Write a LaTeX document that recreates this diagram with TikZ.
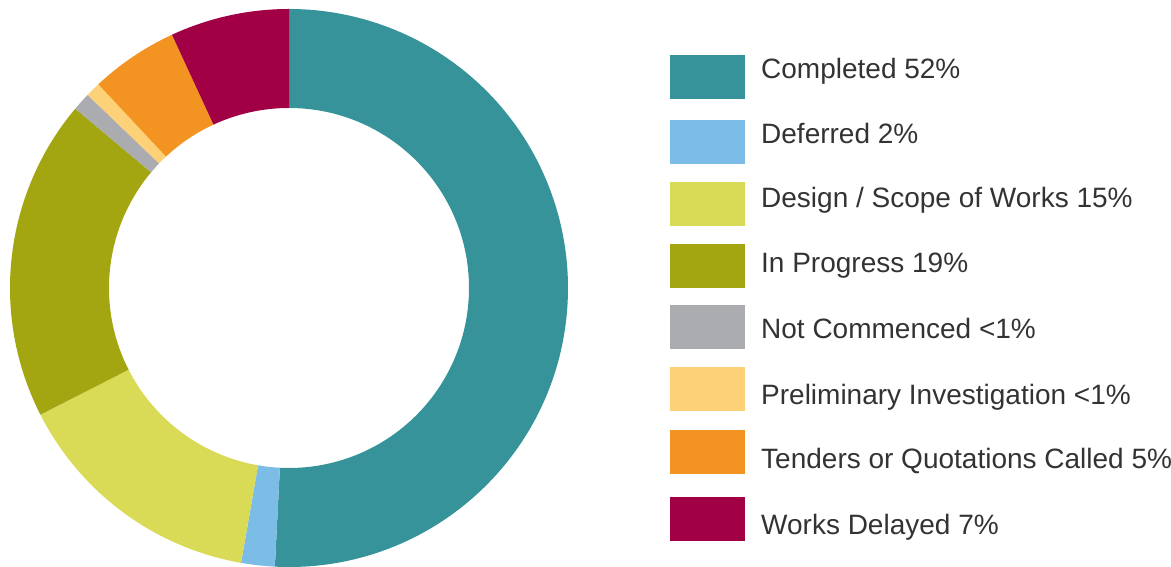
\documentclass[tikz,border=0pt]{standalone}
\usepackage{fontspec}
\setmainfont{Liberation Sans}
\definecolor{cTeal}{HTML}{36939A}
\definecolor{cBlue}{HTML}{7BBDE6}
\definecolor{cLime}{HTML}{D9DA56}
\definecolor{cOlive}{HTML}{A3A610}
\definecolor{cGray}{HTML}{ABACAF}
\definecolor{cPale}{HTML}{FDD178}
\definecolor{cOrange}{HTML}{F39321}
\definecolor{cCrimson}{HTML}{A10045}
\definecolor{cText}{HTML}{333333}
\newcommand{\donutseg}[3]{%
  \fill[#3] ($(c)+(#1:279pt)$) arc[start angle=#1, end angle=#2, radius=279pt]
    -- ($(c)+(#2:180pt)$) arc[start angle=#2, end angle=#1, radius=180pt] -- cycle;}
\usetikzlibrary{calc}
\begin{document}
\begin{tikzpicture}[x=1pt,y=1pt,
  swatch/.style={minimum width=75pt, minimum height=44pt, inner sep=0pt, anchor=north west},
  legtext/.style={anchor=base west, inner sep=0pt, text=cText, font=\fontsize{28pt}{32pt}\selectfont}]
\useasboundingbox (0,0) rectangle (1171,567);
\coordinate (c) at (289,279);
\donutseg{-92.9}{90}{cTeal}
\donutseg{-99.9}{-92.9}{cBlue}
\donutseg{-153}{-99.9}{cLime}
\donutseg{140}{207}{cOlive}
\donutseg{136.2}{140}{cGray}
\donutseg{133.1}{136.2}{cPale}
\donutseg{114.8}{133.1}{cOrange}
\donutseg{90}{114.8}{cCrimson}
% legend
\node[swatch, fill=cTeal]    (s1) at (670,512) {};
\node[swatch, fill=cBlue]    (s2) at (670,447) {};
\node[swatch, fill=cLime]    (s3) at (670,385) {};
\node[swatch, fill=cOlive]   (s4) at (670,323) {};
\node[swatch, fill=cGray]    (s5) at (670,262) {};
\node[swatch, fill=cPale]    (s6) at (670,200) {};
\node[swatch, fill=cOrange]  (s7) at (670,137) {};
\node[swatch, fill=cCrimson] (s8) at (670,70) {};
\node[legtext] (t1) at (761,488) {Completed 52\%};
\node[legtext] (t2) at (761,423) {Deferred 2\%};
\node[legtext] (t3) at (761,359) {Design / Scope of Works 15\%};
\node[legtext] (t4) at (761,294) {In Progress 19\%};
\node[legtext] (t5) at (761,228) {Not Commenced <1\%};
\node[legtext] (t6) at (761,162) {Preliminary Investigation <1\%};
\node[legtext] (t7) at (761,98) {Tenders or Quotations Called 5\%};
\node[legtext] (t8) at (761,32) {Works Delayed 7\%};
\end{tikzpicture}
\end{document}
